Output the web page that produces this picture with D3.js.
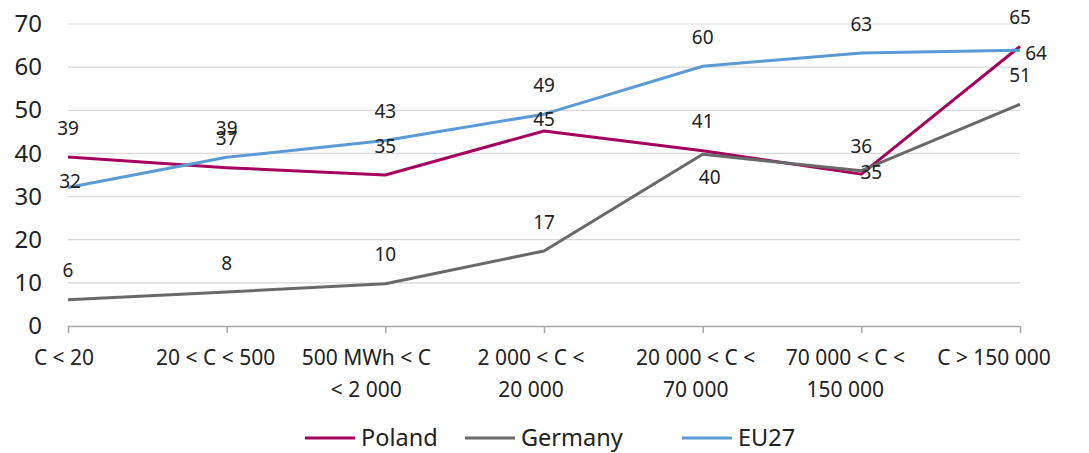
<!DOCTYPE html>
<html>
<head>
<meta charset="utf-8">
<script src="https://cdn.jsdelivr.net/npm/d3@7"></script>
<style>
  html, body { margin: 0; padding: 0; background: #fff; }
  svg { display: block; font-family: "Noto Sans", "DejaVu Sans", sans-serif; }
</style>
</head>
<body>
<svg id="chart" width="1089" height="453"></svg>
<script>
// ---- data ----
const categories = [
  ["C < 20"],
  ["20 < C < 500"],
  ["500 MWh < C", "< 2 000"],
  ["2 000 < C <", "20 000"],
  ["20 000 < C <", "70 000"],
  ["70 000 < C <", "150 000"],
  ["C > 150 000"]
];
const poland  = [39.2, 36.7, 35.0, 45.2, 40.6, 35.2, 64.8];
const germany = [6.1, 7.9, 9.8, 17.4, 39.8, 36.0, 51.4];
const eu27    = [32.1, 39.1, 43.0, 49.1, 60.2, 63.3, 63.9];
const polandLabels  = ["39", "37", "35", "45", "41", "35", "65"];
const germanyLabels = ["6", "8", "10", "17", "40", "36", "51"];
const eu27Labels    = ["32", "39", "43", "49", "60", "63", "64"];
const yTicks = [0, 10, 20, 30, 40, 50, 60, 70];

const series = [
  { name: "Poland",  values: poland,  labels: polandLabels,  color: "#a6005f" },
  { name: "Germany", values: germany, labels: germanyLabels, color: "#696969" },
  { name: "EU27",    values: eu27,    labels: eu27Labels,    color: "#5b9bd5" }
];

// label nudges (layout only) keyed "seriesIndex-pointIndex": [dx, dy from default]
const labelNudge = {
  "0-3": [0, 17], "0-5": [10, 27],
  "1-4": [7, 52], "1-5": [0, 5],
  "2-0": [2, 23], "2-6": [16, 32]
};
// category label horizontal nudges (layout only)
const catDx = [-4, -11, -19, -13, -7, -16, -26];

// ---- layout ----
const svg = d3.select("#chart");
const mLeft = 68, mRight = 1020, mTop = 24, mBottom = 326;

const x = d3.scalePoint().domain(d3.range(categories.length)).range([mLeft, mRight]);
const y = d3.scaleLinear().domain([0, 70]).range([mBottom, mTop]);

// gridlines
svg.append("g")
  .selectAll("line")
  .data(yTicks.filter(d => d > 0))
  .join("line")
  .attr("x1", mLeft).attr("x2", mRight)
  .attr("y1", d => y(d)).attr("y2", d => y(d))
  .attr("stroke", "#d9d9d9").attr("stroke-width", 1.2);

// y axis labels
const yAxis = d3.axisLeft(y).tickValues(yTicks).tickSize(0).tickPadding(0);
const yg = svg.append("g").attr("transform", `translate(42,0)`).call(yAxis);
yg.select(".domain").remove();
yg.selectAll("text")
  .attr("font-size", 24).attr("fill", "#222")
  .attr("font-family", "'Noto Sans', sans-serif");

// x axis
const xAxis = d3.axisBottom(x).tickSize(7).tickFormat("");
const xg = svg.append("g").attr("transform", `translate(0,${mBottom})`).call(xAxis);
xg.select(".domain").attr("stroke", "#a6a6a6").attr("stroke-width", 1.5)
  .attr("d", `M${mLeft},0.5H${mRight}`);
xg.selectAll(".tick line").attr("stroke", "#a6a6a6").attr("stroke-width", 1.5);

// category labels
const catG = svg.append("g");
categories.forEach((lines, i) => {
  const t = catG.append("text")
    .attr("x", x(i) + catDx[i])
    .attr("y", 365)
    .attr("text-anchor", "middle")
    .attr("font-size", 21)
    .attr("fill", "#222");
  lines.forEach((ln, j) => {
    t.append("tspan").attr("x", x(i) + catDx[i]).attr("dy", j === 0 ? 0 : 32).text(ln);
  });
});

// lines
const line = d3.line().x((d, i) => x(i)).y(d => y(d));
series.forEach(s => {
  svg.append("path")
    .datum(s.values)
    .attr("d", line)
    .attr("fill", "none")
    .attr("stroke", s.color)
    .attr("stroke-width", 3)
    .attr("stroke-linejoin", "round");
});

// data labels
series.forEach((s, si) => {
  s.values.forEach((v, i) => {
    const n = labelNudge[`${si}-${i}`] || [0, 0];
    svg.append("text")
      .attr("x", x(i) + n[0])
      .attr("y", y(v) - 29 + n[1])
      .attr("dy", "0.35em")
      .attr("text-anchor", "middle")
      .attr("font-size", 19)
      .attr("fill", "#222")
      .text(s.labels[i]);
  });
});

// legend
const legendItems = [
  { s: series[0], x: 305 },
  { s: series[1], x: 465 },
  { s: series[2], x: 682 }
];
const lg = svg.append("g");
legendItems.forEach(it => {
  lg.append("line")
    .attr("x1", it.x).attr("x2", it.x + 50)
    .attr("y1", 438).attr("y2", 438)
    .attr("stroke", it.s.color).attr("stroke-width", 3);
  lg.append("text")
    .attr("x", it.x + 56).attr("y", 438)
    .attr("dy", "0.35em")
    .attr("font-size", 23.5)
    .attr("fill", "#222")
    .text(it.s.name);
});
</script>
</body>
</html>
